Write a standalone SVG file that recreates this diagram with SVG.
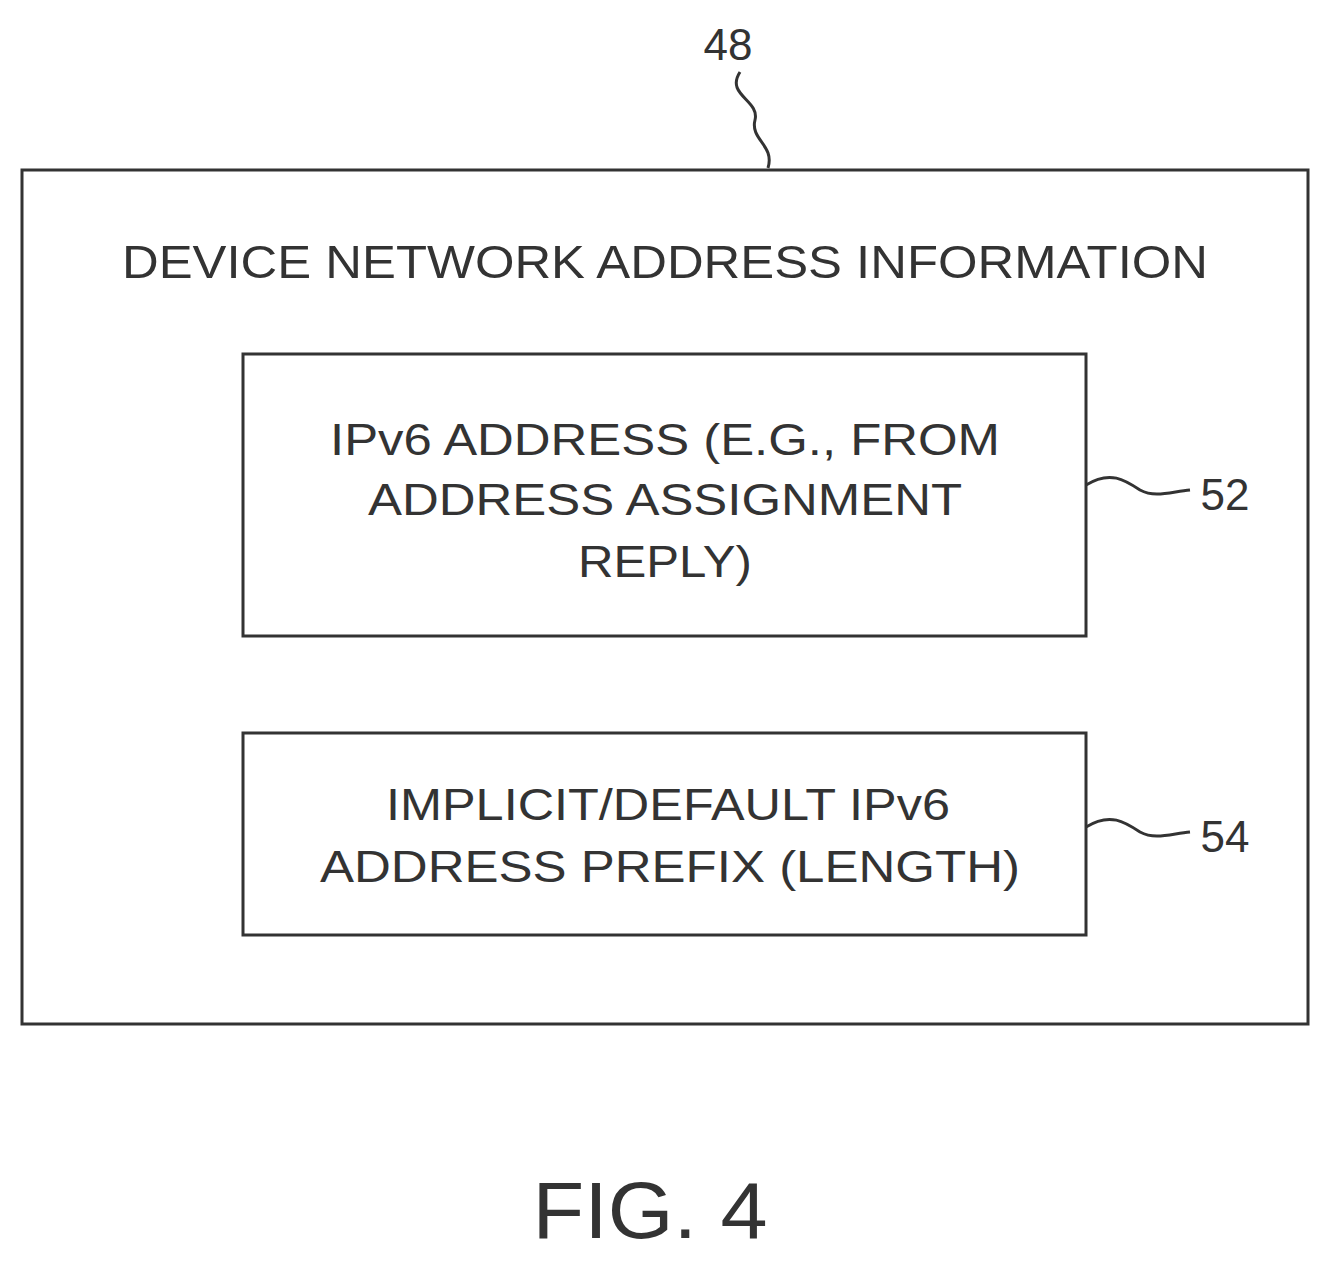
<svg xmlns="http://www.w3.org/2000/svg" width="1330" height="1265" viewBox="0 0 1330 1265">
<style>
.b{fill:none;stroke:#333;stroke-width:3}
.t{font-family:"Liberation Sans",Arial,sans-serif;fill:#333;text-anchor:middle}
</style>
<rect width="1330" height="1265" fill="#fff"/>
<g id="n48"><rect class="b" x="22" y="170" width="1286" height="854"/>
<text class="t" x="665" y="278" font-size="46" textLength="1086" lengthAdjust="spacingAndGlyphs">DEVICE NETWORK ADDRESS INFORMATION</text>
<text class="t" x="728" y="60" font-size="44">48</text></g>
<g id="n52"><rect class="b" x="243" y="354" width="843" height="282"/>
<text class="t" x="665" y="455" font-size="44" textLength="670" lengthAdjust="spacingAndGlyphs">IPv6 ADDRESS (E.G., FROM</text>
<text class="t" x="665" y="515" font-size="44" textLength="594" lengthAdjust="spacingAndGlyphs">ADDRESS ASSIGNMENT</text>
<text class="t" x="665" y="577" font-size="44" textLength="174" lengthAdjust="spacingAndGlyphs">REPLY)</text>
<text class="t" x="1225" y="510" font-size="44">52</text></g>
<g id="n54"><rect class="b" x="243" y="733" width="843" height="202"/>
<text class="t" x="668" y="820" font-size="44" textLength="564" lengthAdjust="spacingAndGlyphs">IMPLICIT/DEFAULT IPv6</text>
<text class="t" x="670" y="882" font-size="44" textLength="700" lengthAdjust="spacingAndGlyphs">ADDRESS PREFIX (LENGTH)</text>
<text class="t" x="1225" y="852" font-size="44">54</text></g>
<g id="connectors" class="b">
<path d="M740 72 C725 95 760 100 755 120 C750 140 775 145 768 168"/>
<path d="M1086 485 C1110 470 1125 480 1140 490 C1155 498 1170 492 1190 490"/>
<path d="M1086 827 C1110 812 1125 822 1140 832 C1155 840 1170 834 1190 832"/>
</g>
<text class="t" x="650" y="1238" font-size="80" textLength="235" lengthAdjust="spacingAndGlyphs">FIG. 4</text>
</svg>
